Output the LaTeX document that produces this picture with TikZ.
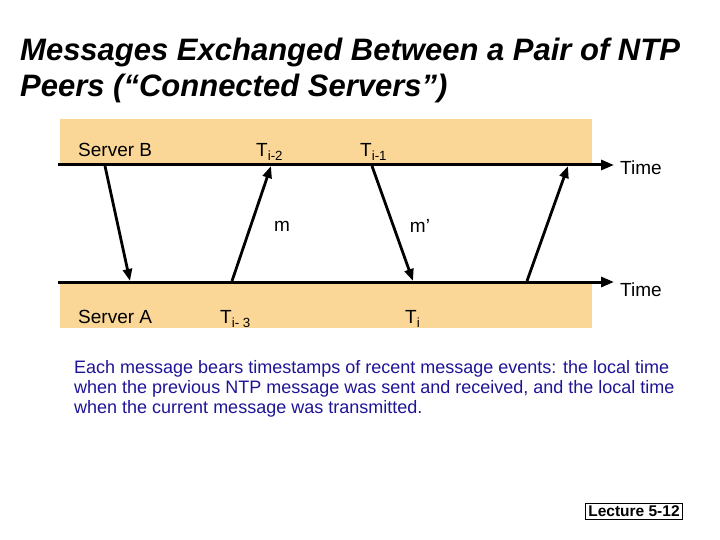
\documentclass[tikz,border=0pt]{standalone}
\usepackage{fontspec}
\setmainfont{Liberation Sans}
\usetikzlibrary{arrows.meta}
\definecolor{band}{RGB}{250,215,150}
\definecolor{navy}{RGB}{30,20,150}
\begin{document}
\begin{tikzpicture}[x=1pt,y=-1pt,
  msg/.style={line width=2.8pt,-{Triangle[length=12pt,width=9pt]}},
  axis/.style={line width=3pt,-{Triangle[length=13pt,width=10pt]}},
  lbl/.style={font=\fontsize{19}{22}\selectfont,inner sep=0pt},
  bnd/.style={fill=band,draw=none}]
\useasboundingbox (0,0) rectangle (720,540);
\node[anchor=west,align=left,font=\fontsize{31}{36}\bfseries\itshape\selectfont,inner sep=0pt] (title) at (20,70) {Messages Exchanged Between a Pair of NTP\\Peers (“Connected Servers”)};
\path[bnd] (60,119) rectangle (592,165);
\path[bnd] (60,282) rectangle (592,328);
\coordinate (b0) at (58,165); \coordinate (b1) at (614,165);
\coordinate (a0) at (58,282); \coordinate (a1) at (614,282);
\draw[axis] (b0) -- (b1);
\draw[axis] (a0) -- (a1);
\node[lbl,anchor=west] (tb) at (620,168) {Time};
\node[lbl,anchor=west] (ta) at (620,290) {Time};
\node[lbl,anchor=west] (sb) at (78,150) {Server B};
\node[lbl,anchor=west] (sa) at (78,317) {Server A};
\node[lbl,anchor=west] (t2) at (256,152) {T\textsubscript{i-2}};
\node[lbl,anchor=west] (t1) at (360,152) {T\textsubscript{i-1}};
\node[lbl,anchor=west] (t3) at (220,319) {T\textsubscript{i- 3}};
\node[lbl,anchor=west] (t0) at (405,319) {T\textsubscript{i}};
\node[lbl] (m) at (282,226) {m};
\node[lbl] (mp) at (420,226) {m\char"0027};
\coordinate (p1) at (105,166); \coordinate (q1) at (130,281);
\coordinate (p2) at (232,281); \coordinate (q2) at (271,166);
\coordinate (p3) at (372,166); \coordinate (q3) at (413,281);
\coordinate (p4) at (527,281); \coordinate (q4) at (568,166);
\draw[msg] (p1) -- (q1);
\draw[msg] (p2) -- (q2);
\draw[msg] (p3) -- (q3);
\draw[msg] (p4) -- (q4);
\node[anchor=north west,align=left,text=navy,font=\fontsize{18}{20}\selectfont,inner sep=0pt] (txt) at (74,360) {Each message bears timestamps of recent message events: the local time\\when the previous NTP message was sent and received, and the local time\\when the current message was transmitted.};
\node[draw,line width=0.8pt,font=\fontsize{15.5}{18}\bfseries\selectfont,inner sep=2.5pt] (lec) at (634,511) {Lecture 5-12};
\end{tikzpicture}
\end{document}
